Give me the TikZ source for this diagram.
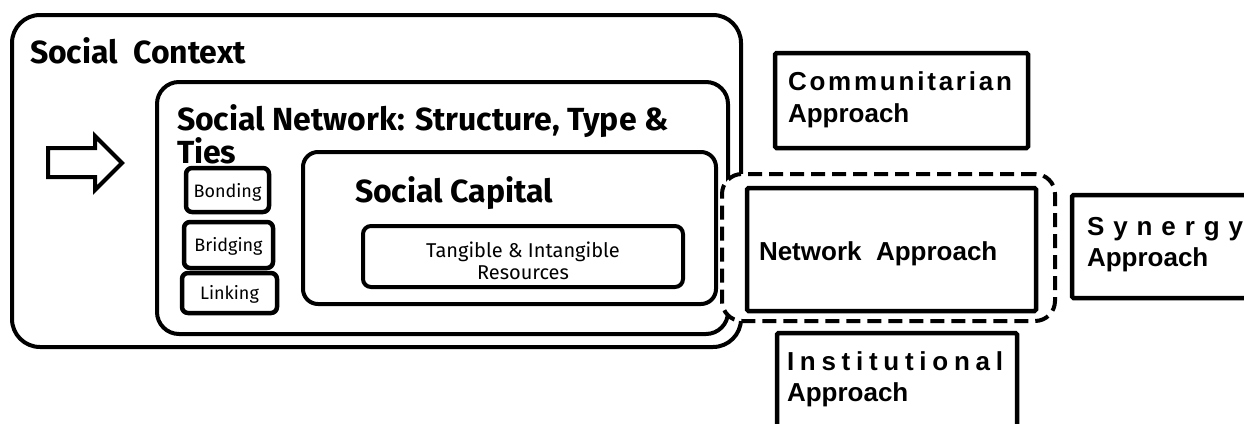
\documentclass[tikz,border=0pt]{standalone}
\usepackage{fontspec}
\setmainfont{Fira Sans}
\newfontfamily\arialf{Liberation Sans}
\begin{document}
\begin{tikzpicture}[x=1pt,y=-1pt]
\tikzset{
 frame/.style={draw, line width=4pt, anchor=north west, inner sep=0pt, outer sep=0pt},
 tie/.style={frame, line width=4.5pt, rounded corners=6pt},
 appbox/.style={frame, line width=4.5pt, rounded corners=1.5pt},
 lbl/.style={anchor=base west, inner sep=0pt, outer sep=0pt},
 big/.style={lbl, font=\fontsize{32}{36}\selectfont\bfseries},
 app/.style={lbl, font=\arialf\fontsize{26}{31}\selectfont\bfseries},
 tietxt/.style={anchor=base, inner sep=0pt, outer sep=0pt, font=\fontsize{18}{21}\selectfont},
 restxt/.style={anchor=base, inner sep=0pt, outer sep=0pt, font=\fontsize{20}{22}\selectfont},
}
\useasboundingbox (0,0) rectangle (1244,423);
% containers
\node[frame, rounded corners=28pt, minimum width=729pt, minimum height=332pt] (ctx) at (12,15) {};
\node[frame, rounded corners=22pt, minimum width=571pt, minimum height=252pt] (net) at (157,82) {};
\node[frame, rounded corners=15pt, minimum width=413pt, minimum height=152pt] (cap) at (303,152) {};
\node[frame, rounded corners=8pt, minimum width=320pt, minimum height=61pt] (res) at (363,226) {};
\node[tie, minimum width=83pt, minimum height=44pt] (bond) at (186,168) {};
\node[tie, minimum width=89pt, minimum height=46pt] (brid) at (184,222) {};
\node[tie, minimum width=95pt, minimum height=40pt] (link) at (182,273) {};
% arrow
\draw[line width=4pt] (48,148) -- (95,148) -- (95,136) -- (122,163) -- (95,190) -- (95,177) -- (48,177) -- cycle;
% labels
\node[big] (ctxl) at (30,63) {Social\ \ Context};
\node[big] (netl1) at (177,130) {Social Network: Structure, Type \&};
\node[big] (netl2) at (177,163) {Ties};
\node[big] (capl) at (355,202) {Social Capital};
\node[tietxt] (bondl) at (bond.center |- 0,197) {Bonding};
\node[tietxt] (bridl) at (brid.center |- 0,251) {Bridging};
\node[tietxt] (linkl) at (link.center |- 0,299) {Linking};
\node[restxt] (resl1) at (res.center |- 0,257) {Tangible \& Intangible};
\node[restxt] (resl2) at (res.center |- 0,279) {Resources};
% dashed group
\node[frame, dashed, dash pattern=on 14pt off 7pt, rounded corners=20pt, fill=white, minimum width=333pt, minimum height=147pt] (grp) at (722,174) {};
\node[appbox, minimum width=289pt, minimum height=123pt] (netapp) at (747,188) {};
\node[appbox, minimum width=253pt, minimum height=95pt] (comm) at (775,53) {};
\node[appbox, minimum width=200pt, minimum height=103pt] (syn) at (1072,195) {};
\node[appbox, minimum width=240pt, minimum height=120pt] (inst) at (777,333) {};
\node[app] (netappl) at (759,260) {Network\ \ Approach};
\node[app] (comml1) at (788,90) {\hbox to 224pt{C\hfil o\hfil m\hfil m\hfil u\hfil n\hfil i\hfil t\hfil a\hfil r\hfil i\hfil a\hfil n}};
\node[app] (comml2) at (788,122) {Approach};
\node[app] (synl1) at (1087,235) {\hbox to 156pt{S\hfil y\hfil n\hfil e\hfil r\hfil g\hfil y}};
\node[app] (synl2) at (1087,266) {Approach};
\node[app] (instl1) at (787,370) {\hbox to 216pt{I\hfil n\hfil s\hfil t\hfil i\hfil t\hfil u\hfil t\hfil i\hfil o\hfil n\hfil a\hfil l}};
\node[app] (instl2) at (787,401) {Approach};
\end{tikzpicture}
\end{document}
